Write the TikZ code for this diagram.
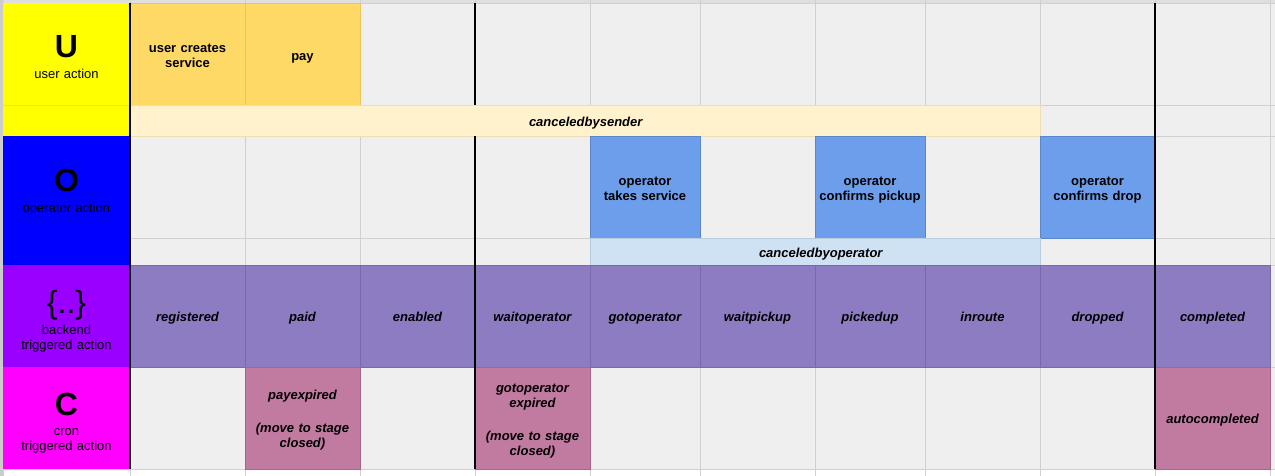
\documentclass[tikz,border=0pt]{standalone}
\usepackage{fontspec}
\setmainfont{Liberation Sans}
\usetikzlibrary{calc}
\definecolor{sheetgrey}{HTML}{EFEFEF}
\definecolor{gridgrey}{HTML}{D0D0D0}
\definecolor{userhead}{HTML}{FFFF00}
\definecolor{operhead}{HTML}{0000FF}
\definecolor{backhead}{HTML}{9900FF}
\definecolor{cronhead}{HTML}{FF00FF}
\definecolor{usercell}{HTML}{FFD966}
\definecolor{userline}{HTML}{EBC45A}
\definecolor{sendercell}{HTML}{FFF2CC}
\definecolor{senderline}{HTML}{EEDDB5}
\definecolor{opercell}{HTML}{6D9EEB}
\definecolor{operline}{HTML}{5A86CC}
\definecolor{cancopcell}{HTML}{CFE2F3}
\definecolor{cancopline}{HTML}{B9CCDD}
\definecolor{statecell}{HTML}{8E7CC3}
\definecolor{stateline}{HTML}{7A68AE}
\definecolor{croncell}{HTML}{C27BA0}
\definecolor{cronline}{HTML}{A8658A}
\tikzset{
  lbl/.style={font=\fontsize{13}{15}\selectfont, align=center, text width=112pt, inner sep=0pt,
    execute at begin node=\strut, execute at end node=\strut, yshift=-1pt},
  act/.style={lbl, font=\fontsize{13}{15}\selectfont\bfseries},
  st/.style={lbl, font=\fontsize{13}{15}\selectfont\bfseries\itshape},
  big/.style={font=\fontsize{32}{32}\selectfont\bfseries, inner sep=0pt},
  sepline/.style={line width=1.2pt, black},
}

\begin{document}
\begin{tikzpicture}[x=1pt,y=-1pt]
          \useasboundingbox (0,0) rectangle (1275,476);
          % sheet background and grid
          \fill[sheetgrey] (0,0) rectangle (1275,476);
          \fill[white] (3,469) rectangle (1275,476);
          \fill[gray!25] (0,0) rectangle (1275,3);
          \fill[gray!40] (0,0) rectangle (3,476);
          \foreach \x in {3,130,245,360,475,590,700,815,925,1040,1155,1270}
            \draw[gridgrey] (\x,0) -- (\x,476);
          \foreach \y in {3,105,136,238,265,367,469}
            \draw[gridgrey] (0,\y) -- (1275,\y);
          % header column
          \fill[userhead] (3,3) rectangle (130,136);
          \draw[userhead!85!gray] (3,105) -- (130,105);
          \fill[operhead] (3,136) rectangle (130,265);
          \fill[backhead] (3,265) rectangle (130,367);
          \fill[cronhead] (3,367) rectangle (130,469);
          % user row
          \draw[fill=usercell,draw=userline] (130,3) rectangle (245,105);
          \draw[fill=usercell,draw=userline] (245,3) rectangle (360,105);
          \draw[fill=sendercell,draw=senderline] (130,105) rectangle (1040,136);
          % operator row
          \foreach \a/\b in {590/700,815/925,1040/1155}
            \draw[fill=opercell,draw=operline] (\a,136) rectangle (\b,238);
          \draw[fill=cancopcell,draw=cancopline] (590,238) rectangle (1040,265);
          % backend row
          \foreach \a/\b in {130/245,245/360,360/475,475/590,590/700,700/815,815/925,925/1040,1040/1155,1155/1270}
            \draw[fill=statecell,draw=stateline] (\a,265) rectangle (\b,367);
          % cron row
          \foreach \a/\b in {245/360,475/590,1155/1270}
            \draw[fill=croncell,draw=cronline] (\a,367) rectangle (\b,469);
          % stage separators
          \draw[sepline] (130,3) -- (130,469);
          \draw[sepline] (475,3) -- (475,105);
          \draw[sepline] (475,136) -- (475,469);
          \draw[sepline] (1155,3) -- (1155,469);
          % header texts
          \node[big] (U) at (66.5,47) {U};
          \node[lbl] (Ulbl) at (66.5,74.5) {user action};
          \node[big] (O) at (66.5,180) {O};
          \node[lbl] (Olbl) at (66.5,208.5) {operator action};
          \node[big,font=\fontsize{32}{32}\selectfont] (B) at (66.5,305.5) {\{..\}};
          \node[lbl] (Blbl) at (66.5,337.5) {backend\\triggered action};
          \node[big] (C) at (66.5,404) {C};
          \node[lbl] (Clbl) at (66.5,438.5) {cron\\triggered action};
          % actions
          \node[act] (create) at (187.5,56) {user creates\\service};
          \node[act] (pay) at (302.5,56.5) {pay};
          \node[st] (cancsender) at (585,122.5) {canceledbysender};
          \node[act] (take) at (645,189.5) {operator\\takes service};
          \node[act] (pickup) at (870,189.5) {operator\\confirms pickup};
          \node[act] (drop) at (1097.5,189.5) {operator\\confirms drop};
          \node[st] (cancoper) at (815,253.5) {canceledbyoperator};
          % states
          \foreach \x/\s [count=\i] in {187.5/registered,302.5/paid,417.5/enabled,532.5/waitoperator,645/gotoperator,757.5/waitpickup,870/pickedup,982.5/inroute,1097.5/dropped,1212.5/completed}
            \node[st] (s\i) at (\x,317.5) {\s};
          % cron events
          \node[st] (payexp) at (302.5,419.5) {payexpired\\[18pt](move to stage\\closed)};
          \node[st] (gotoexp) at (532.5,420) {gotoperator\\expired\\[18pt](move to stage\\closed)};
          \node[st] (autocomp) at (1212.5,419.5) {autocompleted};
        \end{tikzpicture}
\end{document}
